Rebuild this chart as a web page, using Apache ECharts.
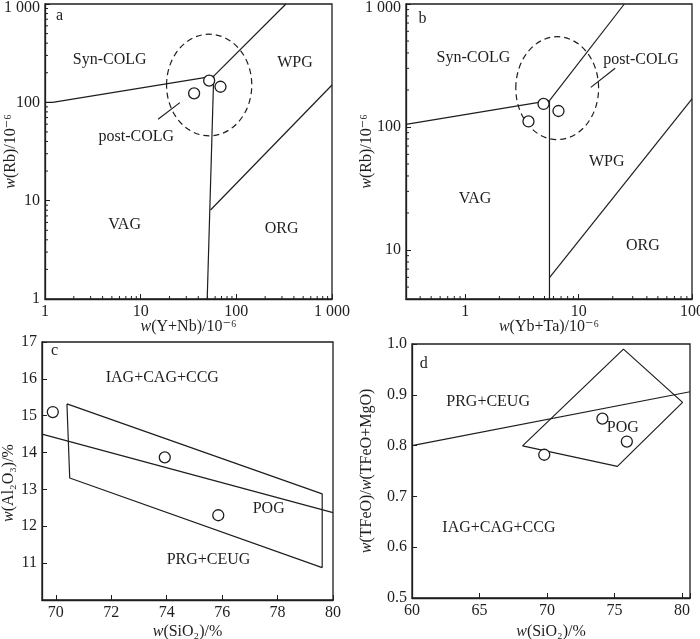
<!DOCTYPE html>
<html style="height: 100%">
<head>
    <meta charset="utf-8">
    <script src="https://cdn.jsdelivr.net/npm/echarts@6/dist/echarts.min.js"></script>
</head>
<body style="height: 100%; margin: 0; background: #fff">
<div id="container" style="width: 700px; height: 639px"></div>
<script type="text/javascript">
// ---- panel a : Rb vs (Y+Nb) ----
var aSamples = [[52.0, 166], [68.3, 144], [36.2, 123.5]];
var aSynVag = [[1, 100], [1.2, 100], [58, 185]];
var aSynWpg = [[58, 185], [330, 1000]];
var aVagOrg = [[58, 185], [49.6, 1]];
var aWpgOrg = [[53.7, 8.04], [1000, 150]];
var aPostTick = [[15.2, 67.2], [25.7, 99.3]];
var aEllipse = [[52.0, 150, 145, 493]];   // centre x, centre y, x at right edge, y at top edge
var aLabels = [['a', 1.42, 755], ['Syn-COLG', 4.75, 270], ['WPG', 410, 253],
               ['post-COLG', 9.0, 44.8], ['VAG', 6.8, 5.66], ['ORG', 297, 5.23]];

// ---- panel b : Rb vs (Yb+Ta) ----
var bSamples = [[4.90, 154], [6.64, 135], [3.61, 111]];
var bSynVag = [[0.3, 105], [5.53, 164]];
var bSynWpg = [[5.53, 164], [25.3, 1000]];
var bVagWpg = [[5.53, 164], [5.53, 4]];
var bWpgOrg = [[5.53, 5.96], [100, 169]];
var bPostTick = [[12.8, 210], [21.0, 300]];
var bEllipse = [[6.47, 207, 15.0, 542]];
var bLabels = [['b', 0.42, 765], ['Syn-COLG', 1.18, 362], ['post-COLG', 35.6, 355],
               ['WPG', 17.7, 52], ['VAG', 1.22, 25.9], ['ORG', 36.9, 10.8]];

// ---- panel c : Al2O3 vs SiO2 ----
var cSamples = [[69.89, 15.10], [73.93, 13.87], [75.86, 12.30]];
var cDivide = [[69.5, 14.5], [80, 12.37]];
var cPog = [[70.40, 15.32], [70.50, 13.31], [79.61, 10.88], [79.61, 12.88], [70.40, 15.32]];
var cLabels = [['c', 69.95, 16.75], ['IAG+CAG+CCG', 73.84, 16.02],
               ['POG', 77.68, 12.47], ['PRG+CEUG', 75.51, 11.09]];

// ---- panel d : TFeO/(TFeO+MgO) vs SiO2 ----
var dSamples = [[69.80, 0.782], [74.11, 0.853], [75.92, 0.808]];
var dDivide = [[60, 0.80], [80.6, 0.906]];
var dPog = [[68.19, 0.7995], [75.67, 0.990], [80.05, 0.885], [75.22, 0.759], [68.19, 0.7995]];
var dLabels = [['d', 60.87, 0.962], ['PRG+CEUG', 65.64, 0.887],
               ['POG', 75.62, 0.836], ['IAG+CAG+CCG', 66.44, 0.638]];

// minor ticks of the log axes
var minorA = [2, 3, 4, 5, 6, 7, 8, 9, 20, 30, 40, 50, 60, 70, 80, 90, 200, 300, 400, 500, 600, 700, 800, 900];
var minorBX = [0.4, 0.5, 0.6, 0.7, 0.8, 0.9, 2, 3, 4, 5, 6, 7, 8, 9, 20, 30, 40, 50, 60, 70, 80, 90];
var minorBY = [5, 6, 7, 8, 9, 20, 30, 40, 50, 60, 70, 80, 90, 200, 300, 400, 500, 600, 700, 800, 900];

var INK = '#1e1e1e';
var FONT = '"Liberation Serif", "DejaVu Serif", serif';
var FS = 16;

function fmtLog(v) {
    var l = Math.log10(v);
    if (Math.abs(l - Math.round(l)) > 1e-6) return '';
    var s = String(Math.round(v));
    return v >= 1000 ? s.replace(/(\d)(?=(\d{3})+$)/g, '$1 ') : s;
}
// y axis: push the top label a little down so it is not cut by the page edge
function fmtLogY(v) {
    var s = fmtLog(v);
    return Math.round(v) === 1000 ? '{t|' + s + '}' : s;
}
var topRich = { t: { fontFamily: FONT, fontSize: FS, color: INK, padding: [8, 0, 0, 0] } };

var nameStyle = function (pad) {
    return {
        fontFamily: FONT, fontSize: FS, color: INK, padding: pad || 0,
        rich: { i: { fontFamily: FONT, fontSize: FS, color: INK, fontStyle: 'italic' } }
    };
};

function axisBase(gi, extra) {
    var o = {
        gridIndex: gi,
        nameLocation: 'middle',
        nameMoveOverlap: false,
        axisLine: { lineStyle: { color: INK, width: 1.3 } },
        axisTick: { inside: true, length: 5, lineStyle: { color: INK, width: 1 } },
        axisLabel: { color: INK, fontFamily: FONT, fontSize: FS, margin: 5 },
        splitLine: { show: false }
    };
    for (var k in extra) {
        if (typeof extra[k] === 'object' && o[k] && !Array.isArray(extra[k])) {
            for (var j in extra[k]) o[k][j] = extra[k][j];
        } else {
            o[k] = extra[k];
        }
    }
    return o;
}

function seg(data, gi) {
    return {
        type: 'line', xAxisIndex: gi, yAxisIndex: gi, data: data,
        symbol: 'none', silent: true, z: 3,
        lineStyle: { color: INK, width: 1.2 }
    };
}

function samples(data, gi) {
    return {
        type: 'scatter', xAxisIndex: gi, yAxisIndex: gi, data: data,
        symbol: 'circle', symbolSize: 11, z: 5,
        itemStyle: { color: '#fff', borderColor: INK, borderWidth: 1.3, opacity: 1 }
    };
}

function labels(list, gi) {
    return {
        type: 'scatter', xAxisIndex: gi, yAxisIndex: gi, silent: true, z: 6,
        symbolSize: 1, itemStyle: { color: 'transparent', opacity: 1 },
        data: list.map(function (l) { return { name: l[0], value: [l[1], l[2]] }; }),
        label: {
            show: true, position: 'inside', formatter: '{b}',
            color: INK, fontFamily: FONT, fontSize: FS
        }
    };
}

function ellipse(data, gi) {
    return {
        type: 'custom', xAxisIndex: gi, yAxisIndex: gi, data: data, silent: true, z: 2,
        renderItem: function (params, api) {
            var c = api.coord([api.value(0), api.value(1)]);
            var px = api.coord([api.value(2), api.value(1)]);
            var py = api.coord([api.value(0), api.value(3)]);
            return {
                type: 'ellipse',
                shape: { cx: c[0], cy: c[1], rx: Math.abs(px[0] - c[0]), ry: Math.abs(c[1] - py[1]) },
                style: { fill: null, stroke: INK, lineWidth: 1.2, lineDash: [6, 4] }
            };
        }
    };
}

// minor tick marks drawn at the axis, onX=true for x axis ticks
function minorTicks(values, gi, other, onX) {
    return {
        type: 'custom', xAxisIndex: gi, yAxisIndex: gi, silent: true, z: 4,
        data: values.map(function (v) { return onX ? [v, other] : [other, v]; }),
        renderItem: function (params, api) {
            var p = api.coord([api.value(0), api.value(1)]);
            return {
                type: 'line',
                shape: onX ? { x1: p[0], y1: p[1], x2: p[0], y2: p[1] - 3 }
                           : { x1: p[0], y1: p[1], x2: p[0] + 3, y2: p[1] },
                style: { stroke: INK, lineWidth: 1 }
            };
        }
    };
}

var dom = document.getElementById('container');
var myChart = echarts.init(dom);
var option = {
    animation: false,
    backgroundColor: '#fff',
    grid: [
        { left: 45, top: 4, right: 368, bottom: 340 },
        { left: 406, top: 4, right: 8, bottom: 340 },
        { left: 42, top: 342, right: 367, bottom: 39 },
        { left: 412, top: 344, right: 10, bottom: 41 }
    ].map(function (g) {
        g.show = true; g.borderColor = INK; g.borderWidth = 1.3;
        g.containLabel = false; g.outerBoundsMode = 'none';
        return g;
    }),
    xAxis: [
        axisBase(0, { type: 'log', logBase: 10, min: 1, max: 1000, name: '{i|w}(Y+Nb)/10⁻⁶',
            nameGap: 20, nameTextStyle: nameStyle(), axisLabel: { formatter: fmtLog } }),
        axisBase(1, { type: 'log', logBase: 10, min: 0.3, max: 100, name: '{i|w}(Yb+Ta)/10⁻⁶',
            nameGap: 20, nameTextStyle: nameStyle(), axisLabel: { formatter: fmtLog } }),
        axisBase(2, { type: 'value', min: 69.5, max: 80, name: '{i|w}(SiO₂)/%',
            nameGap: 24, nameTextStyle: nameStyle(),
            axisLabel: { formatter: function (v) { return v % 2 === 0 ? v : ''; } } }),
        axisBase(3, { type: 'value', min: 60, max: 80.6, interval: 5, name: '{i|w}(SiO₂)/%',
            nameGap: 26, nameTextStyle: nameStyle(),
            axisLabel: { formatter: function (v) { return v % 5 === 0 ? v : ''; } } })
    ],
    yAxis: [
        axisBase(0, { type: 'log', logBase: 10, min: 1, max: 1000, name: '{i|w}(Rb)/10⁻⁶',
            nameGap: 26, nameTextStyle: nameStyle(),
            axisLabel: { formatter: fmtLogY, rich: topRich } }),
        axisBase(1, { type: 'log', logBase: 10, min: 4, max: 1000, name: '{i|w}(Rb)/10⁻⁶',
            nameGap: 31, nameTextStyle: nameStyle(),
            axisLabel: { formatter: fmtLogY, rich: topRich } }),
        axisBase(2, { type: 'value', min: 10, max: 17, interval: 1, name: '{i|w}(Al₂O₃)/%',
            nameGap: 25, nameTextStyle: nameStyle([0, 24, 0, 0]),
            axisLabel: { showMinLabel: false } }),
        axisBase(3, { type: 'value', min: 0.5, max: 1.0, interval: 0.1, name: '{i|w}(TFeO)/{i|w}(TFeO+MgO)',
            nameGap: 37, nameTextStyle: nameStyle(),
            axisLabel: { formatter: function (v) { return v.toFixed(1); } } })
    ],
    series: [
        seg(aSynVag, 0), seg(aSynWpg, 0), seg(aVagOrg, 0), seg(aWpgOrg, 0), seg(aPostTick, 0),
        ellipse(aEllipse, 0), samples(aSamples, 0), labels(aLabels, 0),
        minorTicks(minorA, 0, 1, true), minorTicks(minorA, 0, 1, false),

        seg(bSynVag, 1), seg(bSynWpg, 1), seg(bVagWpg, 1), seg(bWpgOrg, 1), seg(bPostTick, 1),
        ellipse(bEllipse, 1), samples(bSamples, 1), labels(bLabels, 1),
        minorTicks(minorBX, 1, 4, true), minorTicks(minorBY, 1, 0.3, false),

        seg(cDivide, 2), seg(cPog, 2), samples(cSamples, 2), labels(cLabels, 2),

        seg(dDivide, 3), seg(dPog, 3), samples(dSamples, 3), labels(dLabels, 3)
    ]
};
myChart.setOption(option, true);
</script>
</body>
</html>
